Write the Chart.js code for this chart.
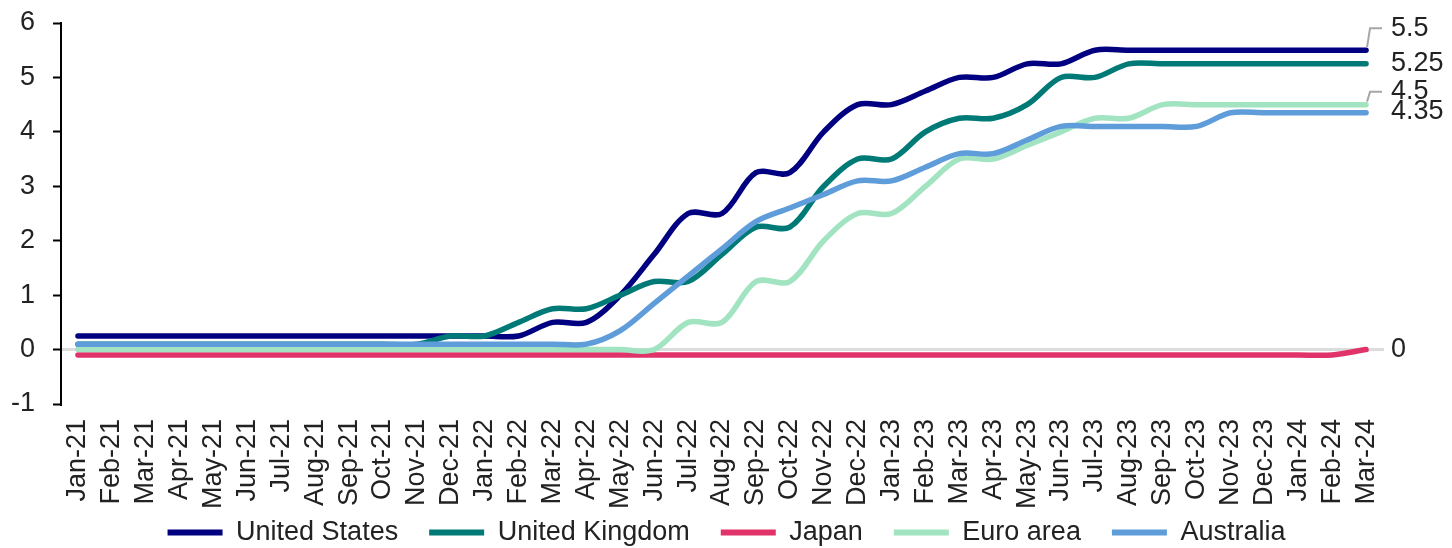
<!DOCTYPE html>
<html>
<head>
<meta charset="utf-8">
<title>Policy rates</title>
<script src="https://cdn.jsdelivr.net/npm/chart.js"></script>
<style>
  html, body { margin: 0; padding: 0; background: #fff; }
  #wrap { width: 1452px; height: 548px; position: relative; }
</style>
</head>
<body>
<div id="wrap"><canvas id="chart"></canvas></div>
<script>
// monthly policy rates, Jan-21 .. Mar-24
const months = [
  'Jan-21', 'Feb-21', 'Mar-21', 'Apr-21', 'May-21', 'Jun-21', 'Jul-21', 'Aug-21', 'Sep-21', 'Oct-21', 'Nov-21', 'Dec-21',
  'Jan-22', 'Feb-22', 'Mar-22', 'Apr-22', 'May-22', 'Jun-22', 'Jul-22', 'Aug-22', 'Sep-22', 'Oct-22', 'Nov-22', 'Dec-22',
  'Jan-23', 'Feb-23', 'Mar-23', 'Apr-23', 'May-23', 'Jun-23', 'Jul-23', 'Aug-23', 'Sep-23', 'Oct-23', 'Nov-23', 'Dec-23',
  'Jan-24', 'Feb-24', 'Mar-24'
];

const unitedStates = [
  0.25, 0.25, 0.25, 0.25, 0.25, 0.25, 0.25, 0.25, 0.25, 0.25, 0.25, 0.25,
  0.25, 0.25, 0.5, 0.5, 1.0, 1.75, 2.5, 2.5, 3.25, 3.25, 4.0, 4.5,
  4.5, 4.75, 5.0, 5.0, 5.25, 5.25, 5.5, 5.5, 5.5, 5.5, 5.5, 5.5,
  5.5, 5.5, 5.5
];
const unitedKingdom = [
  0.1, 0.1, 0.1, 0.1, 0.1, 0.1, 0.1, 0.1, 0.1, 0.1, 0.1, 0.25,
  0.25, 0.5, 0.75, 0.75, 1.0, 1.25, 1.25, 1.75, 2.25, 2.25, 3.0, 3.5,
  3.5, 4.0, 4.25, 4.25, 4.5, 5.0, 5.0, 5.25, 5.25, 5.25, 5.25, 5.25,
  5.25, 5.25, 5.25
];
const japan = [
  -0.1, -0.1, -0.1, -0.1, -0.1, -0.1, -0.1, -0.1, -0.1, -0.1, -0.1, -0.1,
  -0.1, -0.1, -0.1, -0.1, -0.1, -0.1, -0.1, -0.1, -0.1, -0.1, -0.1, -0.1,
  -0.1, -0.1, -0.1, -0.1, -0.1, -0.1, -0.1, -0.1, -0.1, -0.1, -0.1, -0.1,
  -0.1, -0.1, 0
];
const euroArea = [
  0, 0, 0, 0, 0, 0, 0, 0, 0, 0, 0, 0,
  0, 0, 0, 0, 0, 0, 0.5, 0.5, 1.25, 1.25, 2.0, 2.5,
  2.5, 3.0, 3.5, 3.5, 3.75, 4.0, 4.25, 4.25, 4.5, 4.5, 4.5, 4.5,
  4.5, 4.5, 4.5
];
const australia = [
  0.1, 0.1, 0.1, 0.1, 0.1, 0.1, 0.1, 0.1, 0.1, 0.1, 0.1, 0.1,
  0.1, 0.1, 0.1, 0.1, 0.35, 0.85, 1.35, 1.85, 2.35, 2.6, 2.85, 3.1,
  3.1, 3.35, 3.6, 3.6, 3.85, 4.1, 4.1, 4.1, 4.1, 4.1, 4.35, 4.35,
  4.35, 4.35, 4.35
];

const FONT = '"Liberation Sans", Arial, sans-serif';
const TEXT = '#222';

// how far each end label sits above its last point (px)
const labelShift = [-22, 0, 0, -13, -1];

const endLabels = {
  id: 'endLabels',
  afterDatasetsDraw(chart) {
    const { ctx, scales: { x, y } } = chart;
    ctx.save();
    ctx.font = '27px ' + FONT;
    ctx.textBaseline = 'middle';
    chart.data.datasets.forEach((ds, i) => {
      const last = ds.data.length - 1;
      const px = x.getPixelForValue(last);
      const py = y.getPixelForValue(ds.data[last]);
      const ly = py + labelShift[i];
      if (labelShift[i] < -5) {
        ctx.strokeStyle = '#a6a6a6';
        ctx.lineWidth = 2;
        ctx.beginPath();
        ctx.moveTo(px + 1, py - 3);
        ctx.lineTo(px + 4, ly);
        ctx.lineTo(px + 16, ly);
        ctx.stroke();
      }
      if (ds.data[last] === 0) {
        ctx.strokeStyle = '#dcdcdc';
        ctx.lineWidth = 3;
        ctx.beginPath();
        ctx.moveTo(px + 3, py);
        ctx.lineTo(px + 18, py);
        ctx.stroke();
      }
      ctx.fillStyle = TEXT;
      ctx.fillText(String(ds.data[last]), px + 25, ly);
    });
    ctx.restore();
  }
};

// legend box is kept short so the month labels get room; grow it upwards afterwards
// (the legend clips to its own box) and centre it on the canvas
const legendNudge = {
  id: 'legendNudge',
  afterLayout(chart) {
    const lg = chart.legend;
    lg.top -= 30;
    lg.height = lg.bottom - lg.top;
    lg.left += 35; lg.right += 35;
  }
};

function line(label, data, color, order) {
  return {
    label, data,
    borderColor: color,
    backgroundColor: color,
    borderWidth: 5.5,
    pointRadius: 0,
    tension: 0.33,
    borderCapStyle: 'round',
    borderJoinStyle: 'round',
    order
  };
}

new Chart(document.getElementById('chart'), {
  type: 'line',
  data: {
    labels: months,
    datasets: [
      line('United States', unitedStates, '#000080', 5),
      line('United Kingdom', unitedKingdom, '#007a77', 4),
      line('Japan', japan, '#e0336a', 3),
      line('Euro area', euroArea, '#a2e4c2', 2),
      line('Australia', australia, '#5e9cda', 1)
    ]
  },
  options: {
    responsive: true,
    maintainAspectRatio: false,
    animation: false,
    layout: { padding: { top: 23, right: 69, left: 0, bottom: 0 } },
    plugins: {
      tooltip: { enabled: false },
      legend: {
        position: 'bottom',
        maxHeight: 30,
        labels: {
          boxWidth: 55,
          boxHeight: 6,
          padding: 31,
          color: TEXT,
          font: { family: FONT, size: 27 },
          sort: (a, b) => a.datasetIndex - b.datasetIndex,
          generateLabels(chart) {
            const items = Chart.defaults.plugins.legend.labels.generateLabels(chart);
            items.forEach(it => { it.lineWidth = 0; });
            return items;
          }
        }
      }
    },
    scales: {
      x: {
        offset: true,
        grid: { display: false, drawTicks: false },
        border: { display: false },
        ticks: {
          autoSkip: false,
          maxRotation: 90,
          minRotation: 90,
          padding: 15,
          color: TEXT,
          font: { family: FONT, size: 27 }
        },
        afterFit(scale) { scale.height = 114; }
      },
      y: {
        min: -1,
        max: 6,
        ticks: {
          stepSize: 1,
          padding: 18,
          color: TEXT,
          font: { family: FONT, size: 27 }
        },
        grid: {
          drawOnChartArea: true,
          color: ctx => (ctx.tick && ctx.tick.value === 0 ? '#dcdcdc' : 'rgba(0,0,0,0)'),
          lineWidth: 3,
          tickColor: '#000',
          tickWidth: 2,
          tickLength: 8
        },
        border: { display: true, color: '#000', width: 2 },
        afterFit(scale) {
          scale.width = 61;
          scale.paddingTop = 0; // top set by layout padding instead
        }
      }
    }
  },
  plugins: [endLabels, legendNudge]
});
</script>
</body>
</html>
